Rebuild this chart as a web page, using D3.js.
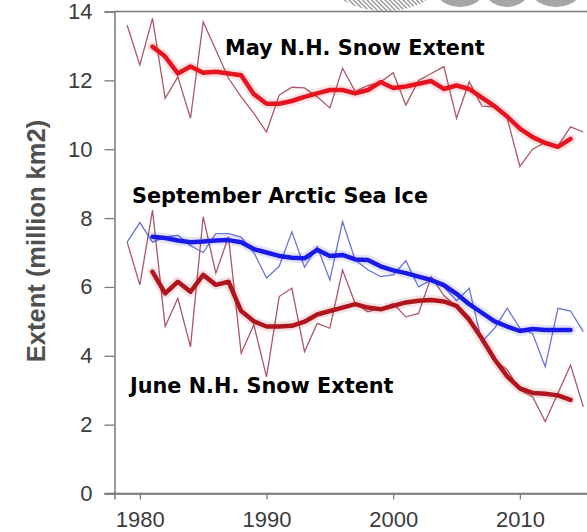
<!DOCTYPE html>
<html>
<head>
<meta charset="utf-8">
<script src="https://cdn.jsdelivr.net/npm/d3@7"></script>
<style>
  html, body { margin: 0; padding: 0; background: #fff; }
  svg { display: block; }
</style>
</head>
<body>
<svg id="chart" width="587" height="532"></svg>
<script>
// Annual extents (million km2), 1979-2015
const years = d3.range(1979, 2016);
const maySnow = [13.6, 12.45, 13.8, 11.48, 12.1, 10.9, 13.7, 12.88, 12.06, 11.52, 11.04, 10.5,
  11.57, 11.8, 11.78, 11.52, 11.2, 12.35, 11.68, 11.85, 11.95, 12.22, 11.28, 12.0, 12.2, 12.4,
  10.9, 11.96, 11.25, 11.23, 10.9, 9.5, 10.0, 10.2, 10.1, 10.65, 10.5];
const septIce = [7.3, 7.87, 7.3, 7.45, 7.5, 7.2, 7.0, 7.55, 7.55, 7.45, 7.0, 6.26,
  6.6, 7.6, 6.57, 7.17, 6.2, 7.9, 6.78, 6.5, 6.3, 6.35, 6.76, 6.0, 6.2, 6.0,
  5.6, 5.96, 4.41, 4.8, 5.38, 4.8, 4.65, 3.68, 5.38, 5.3, 4.7];
const juneSnow = [7.3, 6.06, 8.23, 4.85, 5.67, 4.26, 8.04, 6.4, 7.46, 4.07, 4.9, 3.39,
  5.72, 5.96, 4.12, 4.94, 4.8, 6.49, 5.52, 5.28, 5.38, 5.52, 5.13, 5.23, 6.3, 5.75,
  5.43, 5.13, 4.4, 3.88, 3.59, 3.0, 2.81, 2.09, 2.91, 3.73, 2.52];

// Smoothed trends, 1981-2014
const smoothYears = d3.range(1981, 2015);
const maySmooth = [12.98, 12.69, 12.2, 12.4, 12.22, 12.25, 12.2, 12.15, 11.6, 11.32, 11.32,
  11.4, 11.52, 11.62, 11.72, 11.72, 11.62, 11.72, 11.95, 11.78, 11.82, 11.9, 11.98, 11.75,
  11.85, 11.75, 11.5, 11.25, 10.95, 10.6, 10.35, 10.18, 10.07, 10.3];
const septSmooth = [7.46, 7.42, 7.35, 7.3, 7.32, 7.35, 7.36, 7.3, 7.1, 7.0, 6.9, 6.85, 6.83,
  7.08, 6.9, 6.93, 6.8, 6.78, 6.6, 6.48, 6.4, 6.3, 6.2, 6.05, 5.8, 5.5, 5.25, 5.0, 4.85,
  4.72, 4.78, 4.75, 4.75, 4.75];
const juneSmooth = [6.44, 5.81, 6.15, 5.86, 6.35, 6.06, 6.15, 5.3, 5.0, 4.85, 4.85, 4.87,
  4.99, 5.2, 5.3, 5.4, 5.5, 5.4, 5.35, 5.45, 5.55, 5.6, 5.62, 5.58, 5.45, 5.05, 4.5, 3.9,
  3.4, 3.05, 2.92, 2.9, 2.85, 2.72];

const yTicks = [0, 2, 4, 6, 8, 10, 12, 14];
const xTicks = [1980, 1990, 2000, 2010];
const seriesLabels = ["May N.H. Snow Extent", "September Arctic Sea Ice", "June N.H. Snow Extent"];

const svg = d3.select("#chart");
const x = d3.scaleLinear().domain([1978, 2016]).range([114.5, 595.9]);
const y = d3.scaleLinear().domain([0, 14]).range([493.5, 11.5]);
const axisColor = "#7a7a7a";

// grey watermark along the top edge: a hatched disc and rounded letter shapes
const defs = svg.append("defs");
defs.append("clipPath").attr("id", "hatchClip")
  .append("ellipse").attr("cx", 385).attr("cy", -20).attr("rx", 55).attr("ry", 31);
svg.append("g").attr("clip-path", "url(#hatchClip)")
  .selectAll("line").data(d3.range(300, 440, 4.5)).join("line")
  .attr("x1", d => d).attr("y1", -40).attr("x2", d => d + 52).attr("y2", 12)
  .attr("stroke", "#9a9a9a").attr("stroke-width", 1.4);
svg.append("g").selectAll("ellipse")
  .data([[460, 23], [507, 21], [556, 24]]).join("ellipse")
  .attr("cx", d => d[0]).attr("cy", -8).attr("rx", d => d[1]).attr("ry", 15)
  .attr("fill", "#a6a6a6");

// frame top edge
svg.append("line")
  .attr("x1", x(1978)).attr("x2", x(2016))
  .attr("y1", y(14)).attr("y2", y(14))
  .attr("stroke", axisColor).attr("stroke-width", 1.5);

// y axis
const gy = svg.append("g")
  .attr("transform", `translate(${x(1978)},0)`)
  .call(d3.axisLeft(y).tickValues(yTicks).tickSize(10).tickPadding(12).tickFormat(d3.format("d")));
// x axis
const gx = svg.append("g")
  .attr("transform", `translate(0,${y(0)})`)
  .call(d3.axisBottom(x).tickValues(xTicks).tickSize(6).tickPadding(12).tickFormat(d3.format("d")));
[gy, gx].forEach(g => {
  g.select(".domain").attr("stroke", axisColor).attr("stroke-width", 1.5);
  g.selectAll(".tick line").attr("stroke", axisColor).attr("stroke-width", 1.3);
  g.selectAll(".tick text")
    .attr("fill", "#3c3c3c")
    .style("font-family", "'Liberation Sans', Arial, sans-serif")
    .style("font-size", "22px");
});

// x axis line reaches left to the zero tick
svg.append("line")
  .attr("x1", x(1978) - 10).attr("x2", x(2016))
  .attr("y1", y(0)).attr("y2", y(0))
  .attr("stroke", axisColor).attr("stroke-width", 1.5);

// y axis title
svg.append("text")
  .attr("transform", `translate(45,241) rotate(-90)`)
  .attr("text-anchor", "middle")
  .attr("fill", "#505050")
  .style("font-family", "'Liberation Sans', Arial, sans-serif")
  .style("font-weight", "bold")
  .style("font-size", "25.5px")
  .text("Extent (million km2)");

const line = d3.line().x(d => x(d[0])).y(d => y(d[1]));

function thin(vals, color) {
  svg.append("path")
    .datum(years.map((yr, i) => [yr, vals[i]]))
    .attr("d", line).attr("fill", "none")
    .attr("stroke", color).attr("stroke-width", 1.3)
    .attr("stroke-linejoin", "miter").attr("opacity", 0.85);
}
function thick(vals, color) {
  const pts = smoothYears.map((yr, i) => [yr, vals[i]]);
  svg.append("path").datum(pts).attr("d", line).attr("fill", "none")
    .attr("stroke", color).attr("stroke-width", 10).attr("opacity", 0.12)
    .attr("stroke-linejoin", "round").attr("stroke-linecap", "round");
  svg.append("path").datum(pts).attr("d", line).attr("fill", "none")
    .attr("stroke", color).attr("stroke-width", 4.5)
    .attr("stroke-linejoin", "round").attr("stroke-linecap", "round");
}

thin(maySnow, "#9c3a4a");
thin(juneSnow, "#9c3a4a");
thin(septIce, "#4f5cd4");
thick(maySmooth, "#e6141e");
thick(juneSmooth, "#b0141c");
thick(septSmooth, "#1a1ae8");

// series labels
const labelPos = [[225, 55], [132, 203], [130, 393]];
svg.selectAll("text.series")
  .data(seriesLabels)
  .join("text")
  .attr("class", "series")
  .attr("x", (d, i) => labelPos[i][0])
  .attr("y", (d, i) => labelPos[i][1])
  .attr("fill", "#000")
  .style("font-family", "'DejaVu Sans', Verdana, sans-serif")
  .style("font-weight", "bold")
  .style("font-size", "20.8px")
  .text(d => d);
</script>
</body>
</html>
